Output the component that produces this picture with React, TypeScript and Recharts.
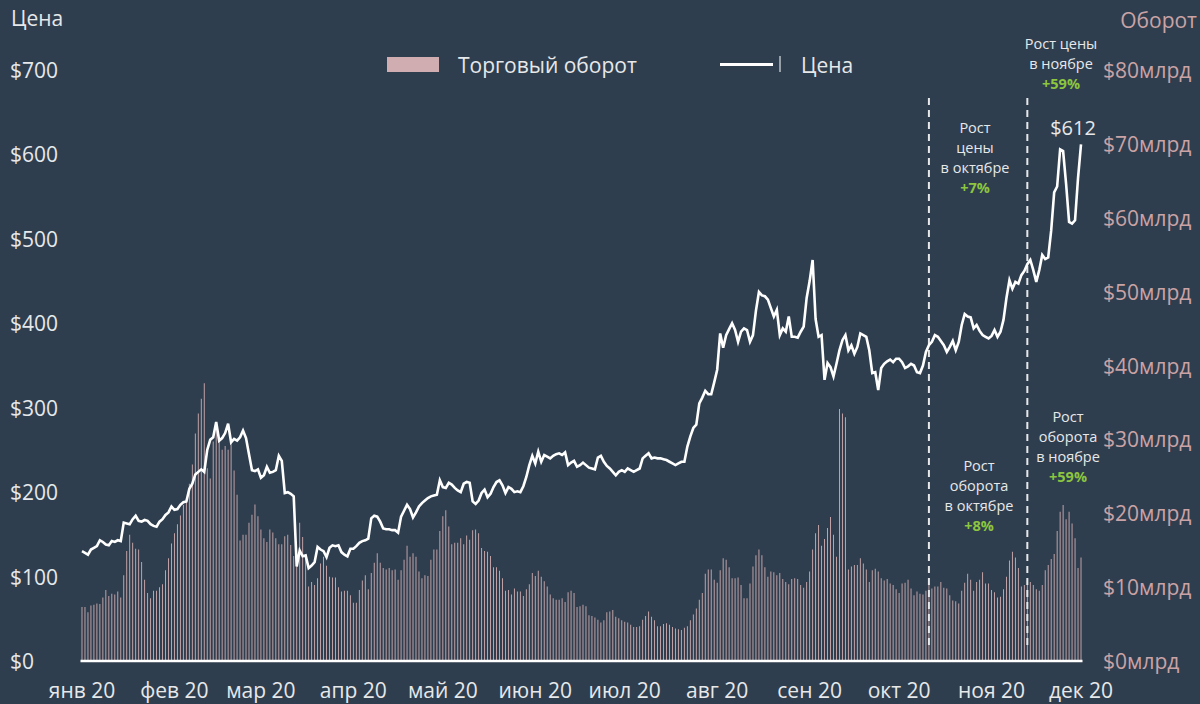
import React from "react";
import { ComposedChart, Bar, Line, XAxis, YAxis, ReferenceLine } from "recharts";

// Daily ETH price (USD), Jan 1 2020 .. Dec 1 2020
const priceJan = [130, 128, 126, 132, 134, 136, 143, 141, 138, 137, 142, 141, 143, 142, 164, 163, 162, 168, 172, 166, 165, 167, 166, 162, 160, 159, 165, 168, 173, 176, 183];
const priceFeb = [179, 180, 185, 188, 189, 204, 210, 221, 224, 227, 224, 250, 262, 265, 283, 261, 264, 270, 281, 259, 263, 261, 265, 273, 264, 245, 226, 225, 227];
const priceMar = [217, 220, 230, 223, 224, 226, 243, 237, 199, 200, 198, 195, 112, 131, 124, 125, 110, 113, 117, 135, 132, 130, 123, 134, 137, 136, 137, 129, 126, 124, 133];
const priceApr = [133, 136, 140, 142, 143, 145, 169, 172, 171, 165, 157, 156, 156, 155, 155, 152, 171, 178, 185, 180, 170, 176, 183, 187, 190, 193, 195, 196, 197, 214];
const priceMay = [206, 205, 211, 209, 205, 202, 200, 210, 212, 211, 189, 186, 190, 199, 203, 194, 198, 206, 212, 214, 208, 199, 206, 204, 200, 201, 200, 207, 218, 232, 243];
const priceJun = [234, 248, 236, 244, 242, 240, 243, 245, 246, 244, 247, 232, 235, 237, 230, 232, 235, 232, 229, 228, 227, 241, 243, 236, 231, 228, 224, 220, 224, 226];
const priceJul = [224, 228, 226, 224, 226, 228, 240, 243, 246, 240, 241, 240, 240, 239, 238, 236, 234, 232, 234, 236, 236, 254, 266, 276, 280, 305, 312, 320, 316, 316, 330];
const priceAug = [345, 388, 371, 386, 393, 400, 392, 378, 390, 394, 392, 378, 386, 415, 437, 433, 432, 428, 418, 408, 416, 386, 394, 390, 408, 384, 384, 383, 390, 396, 430];
const priceSep = [450, 475, 405, 384, 386, 333, 353, 348, 337, 352, 368, 380, 386, 368, 374, 364, 372, 388, 386, 384, 368, 341, 342, 321, 347, 352, 355, 357, 354, 358];
const priceOct = [358, 354, 347, 349, 352, 350, 342, 341, 350, 366, 374, 378, 386, 384, 379, 374, 366, 372, 379, 368, 378, 398, 411, 408, 407, 394, 398, 391, 386, 384, 382];
const priceNov = [385, 392, 384, 390, 404, 430, 451, 441, 449, 447, 457, 462, 470, 475, 463, 449, 463, 481, 476, 478, 510, 555, 562, 606, 604, 565, 520, 518, 522, 572];
const priceDec = [612];

// Daily trading volume (billion USD)
const volJan = [7.3, 7.3, 6.6, 7.5, 7.6, 7.8, 7.7, 8.6, 9.6, 8.8, 9.1, 9.0, 9.4, 8.6, 11.6, 14.9, 17.1, 16.0, 15.2, 15.1, 13.4, 11.0, 9.2, 8.5, 9.5, 9.5, 10.0, 10.4, 12.3, 13.9, 15.9];
const volFeb = [17.3, 18.5, 19.7, 21.1, 22.0, 24.0, 26.6, 30.8, 33.5, 35.5, 37.6, 26.1, 24.7, 29.7, 31.7, 29.9, 28.6, 29.1, 28.6, 29.5, 25.8, 22.5, 16.3, 17.1, 17.1, 18.7, 19.8, 21.2, 19.6];
const volMar = [17.8, 16.6, 16.1, 17.8, 17.4, 16.6, 15.8, 15.8, 16.9, 17.1, 15.7, 14.2, 13.4, 18.7, 16.8, 14.3, 10.1, 10.7, 10.3, 11.2, 13.2, 14.1, 12.9, 11.4, 11.3, 11.3, 10.0, 9.4, 9.5, 9.5, 8.9];
const volApr = [7.9, 7.9, 9.6, 10.9, 11.6, 9.7, 11.9, 13.3, 14.6, 13.3, 12.6, 12.4, 12.6, 12.3, 12.4, 11.0, 12.3, 13.7, 15.6, 14.1, 14.6, 14.1, 12.1, 11.2, 11.6, 11.5, 13.7, 15.1, 15.1, 17.6];
const volMay = [19.6, 20.4, 18.2, 15.8, 16.0, 16.0, 16.6, 15.8, 17.0, 16.4, 17.7, 17.8, 17.3, 15.3, 14.9, 14.8, 14.2, 12.7, 12.7, 12.2, 11.2, 9.5, 9.6, 9.0, 9.8, 9.4, 9.4, 8.8, 9.7, 10.4, 11.9];
const volJun = [11.5, 12.2, 11.4, 10.8, 10.1, 9.0, 8.5, 8.3, 8.3, 8.5, 8.0, 9.3, 9.5, 9.2, 7.3, 7.4, 7.6, 7.4, 6.2, 6.1, 5.9, 5.6, 5.2, 5.5, 6.6, 6.7, 6.9, 6.0, 5.8, 5.5];
const volJul = [5.3, 5.2, 4.9, 4.6, 4.6, 4.7, 5.6, 6.1, 6.7, 6.0, 5.5, 4.7, 4.7, 5.0, 5.1, 4.9, 4.6, 4.4, 4.3, 4.2, 4.5, 4.7, 5.5, 6.3, 7.1, 8.3, 9.2, 11.8, 12.4, 12.4, 11.0];
const volAug = [10.6, 12.3, 13.9, 13.7, 12.7, 11.2, 11.2, 11.3, 10.3, 8.5, 8.5, 10.5, 12.8, 14.3, 15.1, 14.3, 12.7, 11.4, 12.1, 12.0, 11.6, 11.9, 11.1, 10.7, 10.4, 11.1, 11.2, 11.1, 10.3, 9.9, 10.7];
const volSep = [12.1, 15.1, 17.3, 18.4, 15.6, 16.5, 18.0, 19.5, 17.1, 14.1, 34.1, 33.5, 33.0, 12.4, 12.8, 13.0, 13.0, 13.9, 13.2, 12.4, 10.7, 12.3, 12.5, 12.1, 11.2, 10.9, 11.1, 10.5, 10.3, 9.7];
const volOct = [9.2, 10.5, 10.6, 11.0, 9.8, 8.9, 9.4, 9.1, 9.0, 9.5, 10.3, 9.8, 10.1, 10.1, 10.7, 9.9, 9.8, 8.9, 8.2, 8.1, 7.8, 9.5, 10.6, 11.8, 11.0, 9.5, 10.7, 11.0, 12.0, 10.5, 10.5];
const volNov = [9.6, 9.3, 8.6, 8.7, 9.7, 11.4, 13.6, 14.8, 14.0, 12.6, 10.1, 10.3, 10.9, 10.7, 10.3, 9.7, 9.5, 10.3, 12.3, 13.0, 13.8, 14.5, 17.6, 20.2, 21.1, 19.2, 20.2, 18.6, 16.6, 12.6];
const volDec = [14.0];

const monthLabels = ["янв 20", "фев 20", "мар 20", "апр 20", "май 20", "июн 20", "июл 20", "авг 20", "сен 20", "окт 20", "ноя 20", "дек 20"];
const monthStartIdx = [0, 31, 60, 91, 121, 152, 182, 213, 244, 274, 305, 335];
const priceTicks = [0, 100, 200, 300, 400, 500, 600, 700];
const volTicks = [0, 10, 20, 30, 40, 50, 60, 70, 80];
const markerDays = [284, 317];

const price = [...priceJan, ...priceFeb, ...priceMar, ...priceApr, ...priceMay, ...priceJun, ...priceJul, ...priceAug, ...priceSep, ...priceOct, ...priceNov, ...priceDec];
const volume = [...volJan, ...volFeb, ...volMar, ...volApr, ...volMay, ...volJun, ...volJul, ...volAug, ...volSep, ...volOct, ...volNov, ...volDec];
const data = price.map((p, i) => ({ i, price: p, vol: volume[i] }));

const BG = "#2f3e4e";
const LIGHT = "#e6e8ea";
const PINK = "#c9a3a6";
const BAR = "#d0adb0";
const GREEN = "#8cc63f";
const FONT = "'Open Sans', sans-serif";
const FS = 21;
const LH = 20;

const LeftTick = (props: any) => (
  <text x={10} y={props.y} dominantBaseline="central" fill={LIGHT} fontSize={FS} fontFamily={FONT}>
    {"$" + props.payload.value}
  </text>
);
const RightTick = (props: any) => (
  <text x={1103} y={props.y} dominantBaseline="central" fill={PINK} fontSize={FS} fontFamily={FONT}>
    {"$" + props.payload.value + "млрд"}
  </text>
);
const BottomTick = (props: any) => {
  const k = monthStartIdx.indexOf(props.payload.value);
  return (
    <text x={props.x} y={690} textAnchor="middle" dominantBaseline="central" fill={LIGHT} fontSize={FS} fontFamily={FONT}>
      {monthLabels[k]}
    </text>
  );
};

const Note = ({ x, y, lines, pct }: { x: number; y: number; lines: string[]; pct: string }) => (
  <text x={x} y={y + 5} fontFamily={FONT} fontSize={14.5} textAnchor="middle" fill={LIGHT}>
    {lines.map((l, k) => (
      <tspan key={k} x={x} dy={k === 0 ? 0 : LH}>
        {l}
      </tspan>
    ))}
    <tspan x={x} dy={LH} fill={GREEN} fontWeight="bold">
      {pct}
    </tspan>
  </text>
);

export default function App() {
  return (
    <div style={{ position: "absolute", left: 0, top: 0, width: 1200, height: 704, background: BG, overflow: "hidden" }}>
      <ComposedChart
        width={1200}
        height={704}
        data={data}
        margin={{ top: 70, right: 17.5, bottom: 0, left: 10.5 }}
        barCategoryGap="35%"
      >
        <XAxis
          dataKey="i"
          type="category"
          ticks={monthStartIdx}
          interval={0}
          tick={<BottomTick />}
          tickLine={false}
          axisLine={{ stroke: "#ffffff", strokeWidth: 2.5 }}
          height={43}
        />
        <YAxis
          yAxisId="price"
          orientation="left"
          domain={[0, 700]}
          ticks={priceTicks}
          width={70}
          tick={<LeftTick />}
          tickLine={false}
          axisLine={false}
        />
        <YAxis
          yAxisId="vol"
          orientation="right"
          domain={[0, 80]}
          ticks={volTicks}
          width={100}
          tick={<RightTick />}
          tickLine={false}
          axisLine={false}
        />
        <Bar yAxisId="vol" dataKey="vol" fill={BAR} isAnimationActive={false} />
        {markerDays.map((d) => (
          <ReferenceLine
            key={d}
            yAxisId="price"
            segment={[
              { x: d, y: 19 },
              { x: d, y: 668 },
            ]}
            stroke={LIGHT}
            strokeWidth={2}
            strokeDasharray="7 5"
          />
        ))}
        <Line
          yAxisId="price"
          dataKey="price"
          type="linear"
          stroke="#ffffff"
          strokeWidth={2.6}
          dot={false}
          isAnimationActive={false}
        />
      </ComposedChart>
      <svg width={1200} height={704} style={{ position: "absolute", left: 0, top: 0, pointerEvents: "none" }}>
        <text x={11} y={18} dominantBaseline="central" fill={LIGHT} fontSize={FS} fontFamily={FONT}>Цена</text>
        <text x={1197} y={20} textAnchor="end" dominantBaseline="central" fill={PINK} fontSize={FS} fontFamily={FONT}>Оборот</text>
        <rect x={387} y={57} width={52} height={15} fill={BAR} />
        <text x={458} y={64.5} dominantBaseline="central" fill={LIGHT} fontSize={FS} fontFamily={FONT}>Торговый оборот</text>
        <line x1={720} x2={773} y1={64.5} y2={64.5} stroke="#ffffff" strokeWidth={3} />
        <line x1={780} x2={780} y1={56} y2={72} stroke="#ffffff" strokeWidth={1} />
        <text x={801} y={64.5} dominantBaseline="central" fill={LIGHT} fontSize={FS} fontFamily={FONT}>Цена</text>
        <Note x={1061} y={44} lines={["Рост цены", "в ноябре"]} pct="+59%" />
        <text x={1073} y={127} textAnchor="middle" dominantBaseline="central" fill={LIGHT} fontSize={20} fontFamily={FONT}>$612</text>
        <Note x={975} y={128} lines={["Рост", "цены", "в октябре"]} pct="+7%" />
        <Note x={979} y={466} lines={["Рост", "оборота", "в октябре"]} pct="+8%" />
        <Note x={1068} y={417} lines={["Рост", "оборота", "в ноябре"]} pct="+59%" />
      </svg>
    </div>
  );
}
